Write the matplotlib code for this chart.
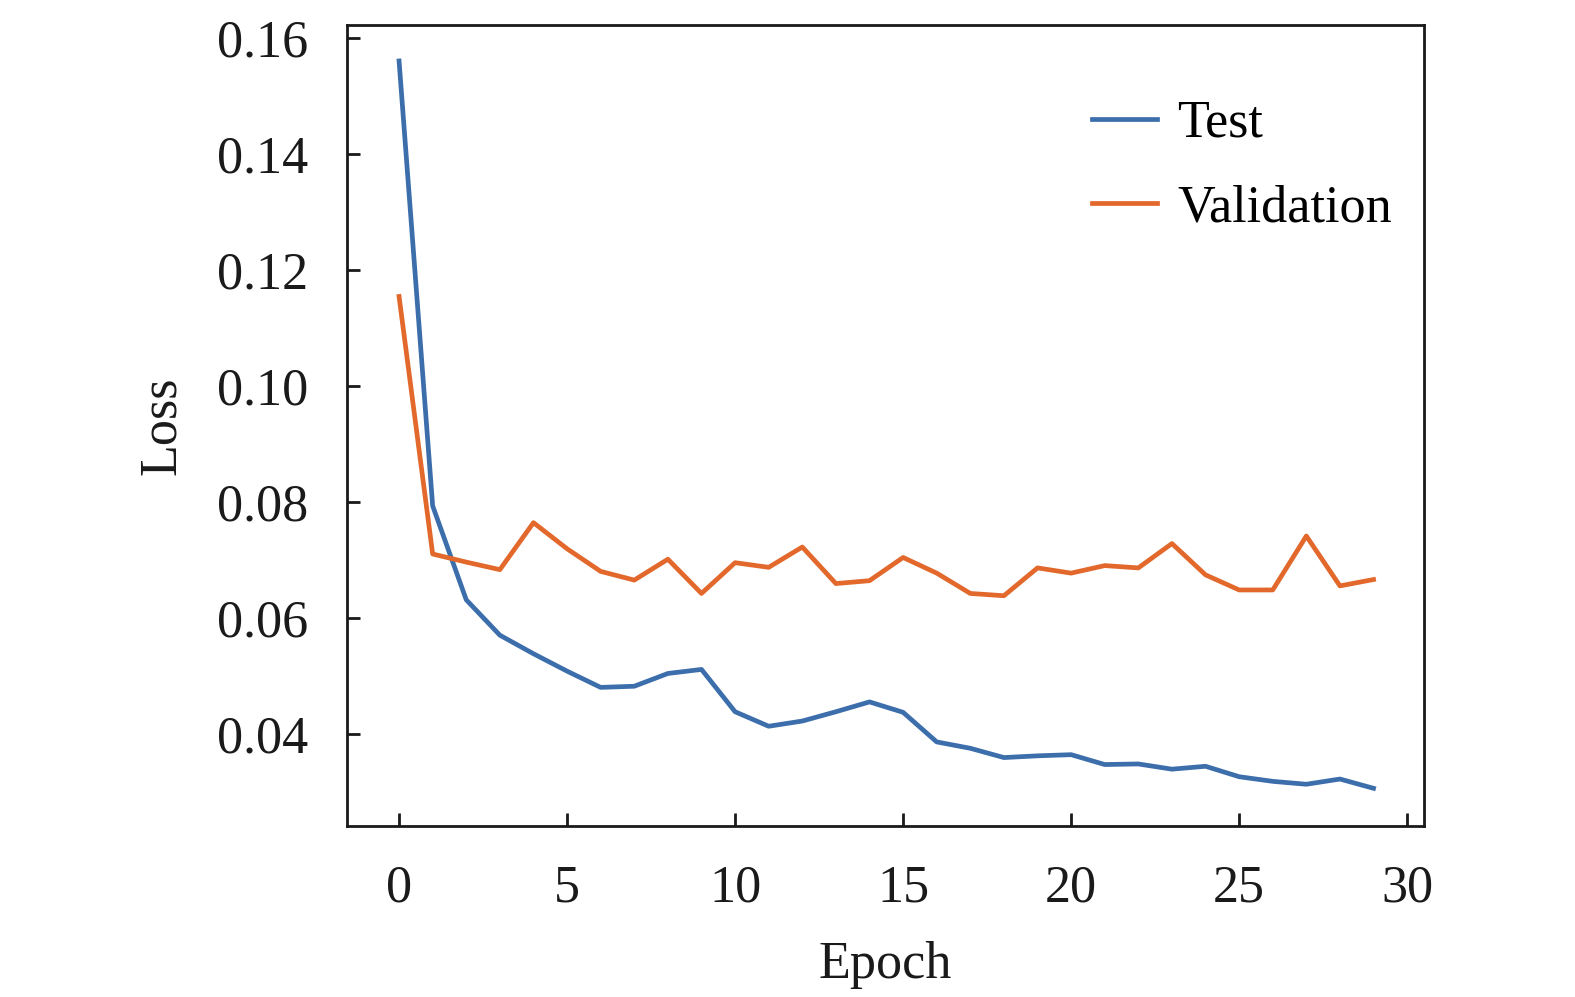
import matplotlib
matplotlib.use("Agg")
import matplotlib.pyplot as plt
import numpy as np
from matplotlib.ticker import FormatStrFormatter

# Loss per epoch
epochs = list(range(30))
test_loss = [
    0.1560, 0.0793, 0.0631, 0.0570, 0.0538, 0.0508, 0.0480, 0.0482, 0.0504, 0.0511,
    0.0438, 0.0413, 0.0422, 0.0438, 0.0455, 0.0437, 0.0386, 0.0375, 0.0359, 0.0362,
    0.0364, 0.0347, 0.0348, 0.0339, 0.0344, 0.0326, 0.0318, 0.0313, 0.0322, 0.0306,
]
val_loss = [
    0.1154, 0.0710, 0.0696, 0.0683, 0.0764, 0.0719, 0.0680, 0.0665, 0.0701, 0.0642,
    0.0695, 0.0687, 0.0722, 0.0659, 0.0664, 0.0704, 0.0677, 0.0642, 0.0638, 0.0686,
    0.0677, 0.0690, 0.0686, 0.0728, 0.0674, 0.0648, 0.0648, 0.0741, 0.0655, 0.0666,
]
x_ticks = [0, 5, 10, 15, 20, 25, 30]
y_ticks = [0.04, 0.06, 0.08, 0.10, 0.12, 0.14, 0.16]

BLUE = "#3c6eab"
ORANGE = "#e2682c"
FS = 37.5

plt.rcParams["font.family"] = ["Liberation Serif", "DejaVu Serif"]

fig = plt.figure(figsize=(15.75, 9.97), dpi=100)
ax = fig.add_axes([0.2203, 0.1715, 0.6838, 0.8034])

ax.plot(epochs, test_loss, color=BLUE, lw=3.4, label="Test")
ax.plot(epochs, val_loss, color=ORANGE, lw=3.4, label="Validation")

ax.set_xlim(-1.55, 30.5)
ax.set_ylim(0.0241, 0.1622)
ax.set_xticks(x_ticks)
ax.set_yticks(y_ticks)
ax.yaxis.set_major_formatter(FormatStrFormatter("%.2f"))

for s in ax.spines.values():
    s.set_linewidth(2.0)
    s.set_color("#1a1a1a")
ax.tick_params(direction="in", length=9.5, width=2.0, colors="#1a1a1a",
               labelsize=FS, pad=28, labelcolor="#1a1a1a")

ax.set_xlabel("Epoch", fontsize=FS, labelpad=20, color="#1a1a1a")
ax.set_ylabel("Loss", fontsize=FS, labelpad=22, color="#1a1a1a")

ax.legend(loc="upper left", bbox_to_anchor=(0.658, 0.952), frameon=False,
          fontsize=FS, handlelength=1.25, handletextpad=0.38, labelspacing=0.7,
          borderpad=0.2)

fig.savefig("out.png", dpi=100)
